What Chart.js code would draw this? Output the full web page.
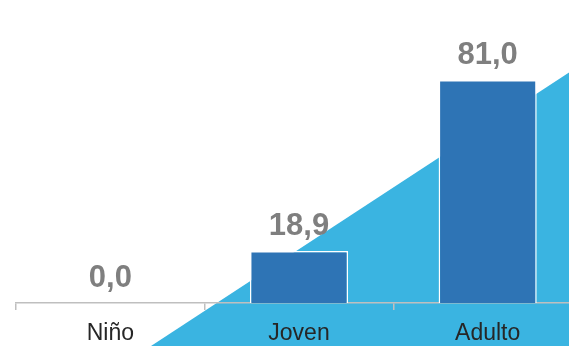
<!DOCTYPE html>
<html>
<head>
<meta charset="utf-8">
<script src="https://cdn.jsdelivr.net/npm/chart.js@4/dist/chart.umd.min.js"></script>
<style>
  html, body { margin: 0; padding: 0; background: #fff; overflow: hidden; }
  #wrap { position: relative; width: 582px; height: 346px; }
</style>
</head>
<body>
<div id="wrap"><canvas id="c" width="582" height="346"></canvas></div>
<script>
const categories = ['Niño', 'Joven', 'Adulto'];
const values = [0.0, 18.9, 81.0];
const valueLabels = ['0,0', '18,9', '81,0'];

// Light-blue diagonal wedge painted behind the bars
const wedgePlugin = {
  id: 'wedge',
  beforeDraw(chart) {
    const ctx = chart.ctx;
    const w = chart.width, h = chart.height;
    ctx.save();
    ctx.fillStyle = '#3AB4E1';
    ctx.beginPath();
    ctx.moveTo(151, h);
    ctx.lineTo(w, 64);
    ctx.lineTo(w, h);
    ctx.closePath();
    ctx.fill();
    ctx.restore();
  }
};

// Value labels above each bar
const valueLabelPlugin = {
  id: 'valueLabels',
  afterDatasetsDraw(chart) {
    const ctx = chart.ctx;
    const meta = chart.getDatasetMeta(0);
    ctx.save();
    ctx.font = 'bold 31px "Liberation Sans", Arial, sans-serif';
    ctx.fillStyle = '#7F7F7F';
    ctx.textAlign = 'center';
    ctx.textBaseline = 'alphabetic';
    meta.data.forEach((bar, i) => {
      ctx.fillText(valueLabels[i], bar.x, bar.y - 16);
    });
    ctx.restore();
  }
};

new Chart(document.getElementById('c'), {
  type: 'bar',
  data: {
    labels: categories,
    datasets: [{
      data: values,
      backgroundColor: '#2E74B5',
      borderColor: '#FFFFFF',
      borderWidth: 1.5,
      categoryPercentage: 1,
      barPercentage: 0.52
    }]
  },
  options: {
    responsive: false,
    animation: false,
    layout: { padding: { left: 16, right: 0, top: 0, bottom: 0 } },
    plugins: { legend: { display: false }, tooltip: { enabled: false } },
    scales: {
      x: {
        border: { display: true, color: '#BFBFBF', width: 1.5 },
        grid: { display: true, drawOnChartArea: false, drawTicks: true, tickLength: 7, color: '#BFBFBF', lineWidth: 1.5, offset: true },
        ticks: {
          padding: 10,
          color: '#262626',
          font: { family: '"Liberation Sans", Arial, sans-serif', size: 23 }
        },
        afterFit(scale) { scale.height = 43; }
      },
      y: {
        display: false,
        min: 0,
        max: 110
      }
    }
  },
  plugins: [wedgePlugin, valueLabelPlugin]
});
</script>
</body>
</html>
